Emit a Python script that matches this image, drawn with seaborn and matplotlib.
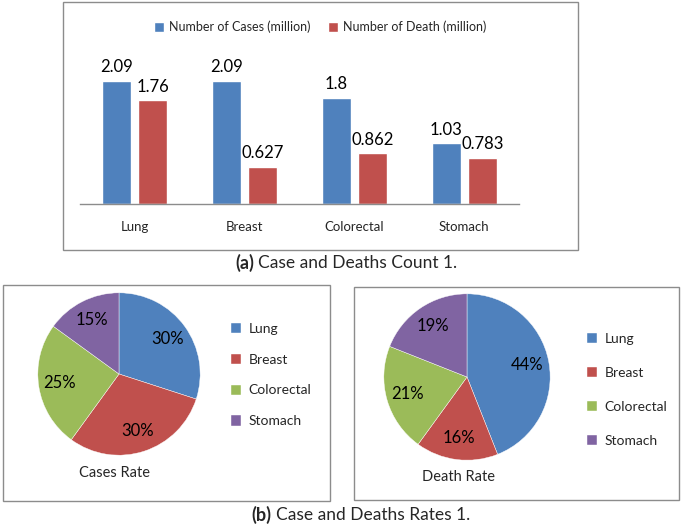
import matplotlib.pyplot as plt
import seaborn as sns
import pandas as pd
from matplotlib.patches import Rectangle

sites = ['Lung', 'Breast', 'Colorectal', 'Stomach']
cases_million = [2.09, 2.09, 1.8, 1.03]
deaths_million = [1.76, 0.627, 0.862, 0.783]
cases_pct = [30, 30, 25, 15]
deaths_pct = [44, 16, 21, 19]
series_names = ['Number of Cases (million)', 'Number of Death (million)']

colors = ['#4F81BD', '#C0504D', '#9BBB59', '#8064A2']

sns.set_theme(style='white')
plt.rcParams['font.family'] = ['Lato', 'DejaVu Sans']

df = pd.DataFrame({
    'site': sites * 2,
    'value': cases_million + deaths_million,
    'series': [series_names[0]] * 4 + [series_names[1]] * 4,
})

W, H = 685, 527
fig = plt.figure(figsize=(W / 100, H / 100), dpi=100)


def fx(px):
    return px / W


def fy(py):
    return 1 - py / H


# frames around the three panels
for x0, y0, x1, y1 in [(63, 2, 578, 250), (3, 285, 330, 501), (354, 287, 679, 500)]:
    fig.add_artist(Rectangle((fx(x0), fy(y1)), (x1 - x0) / W, (y1 - y0) / H,
                             transform=fig.transFigure, fill=False,
                             ec='#8c8c8c', lw=1))

# (a) grouped bars
ax = fig.add_axes([fx(80), fy(204), 439 / W, (204 - 40) / H])
sns.barplot(data=df, x='site', y='value', hue='series', palette=colors[:2],
            width=0.66, gap=0.2, saturation=1, ax=ax)
for c in ax.containers:
    ax.bar_label(c, fmt='{:g}', padding=4, fontsize=12, color='black')
ax.set_ylim(0, 2.78)
ax.set_xlim(-0.5, 3.5)
ax.set_yticks([])
ax.set_xlabel('')
ax.set_ylabel('')
for s in ['left', 'top', 'right']:
    ax.spines[s].set_visible(False)
ax.spines['bottom'].set_color('#8c8c8c')
ax.spines['bottom'].set_linewidth(1)
ax.tick_params(axis='x', length=0, pad=12, labelsize=9.5)
sns.move_legend(ax, 'center', bbox_to_anchor=(fx(320), fy(27)),
                bbox_transform=fig.transFigure, ncol=2, frameon=False,
                title=None, fontsize=9, handlelength=0.8, handleheight=0.8,
                handletextpad=0.4, columnspacing=1.4)


# (b) two pies
def draw_pie(cx, cy, r, pct, title, tx, ty, lx, ly, spacing):
    pax = fig.add_axes([fx(cx - r), fy(cy + r), 2 * r / W, 2 * r / H])
    wedges, _, _ = pax.pie(pct, colors=colors, startangle=90, counterclock=False,
                           autopct='%.0f%%', pctdistance=0.74,
                           wedgeprops=dict(edgecolor='white', linewidth=0.3),
                           textprops=dict(fontsize=12, color='black'))
    pax.set_xlim(-1.01, 1.01)
    pax.set_ylim(-1.01, 1.01)
    fig.text(fx(tx), fy(ty), title, ha='center', va='center', fontsize=10.5)
    fig.legend(wedges, sites, loc='center left', bbox_to_anchor=(fx(lx), fy(ly)),
               frameon=False, fontsize=10, handlelength=0.75, handleheight=0.75,
               handletextpad=0.5, labelspacing=spacing, borderpad=0,
               borderaxespad=0)


draw_pie(119, 374, 82, cases_pct, 'Cases Rate', 115, 473, 231, 375, 1.36)
draw_pie(467, 377, 84, deaths_pct, 'Death Rate', 459, 477, 587, 390, 1.58)

# captions
fig.text(fx(254), fy(263), '(a)', ha='right', va='center', fontsize=13, fontweight='bold')
fig.text(fx(258), fy(263), 'Case and Deaths Count 1.', ha='left', va='center', fontsize=12.5)
fig.text(fx(271), fy(515), '(b)', ha='right', va='center', fontsize=13, fontweight='bold')
fig.text(fx(276), fy(515), 'Case and Deaths Rates 1.', ha='left', va='center', fontsize=12.5)

fig.savefig('out.png', dpi=100)
